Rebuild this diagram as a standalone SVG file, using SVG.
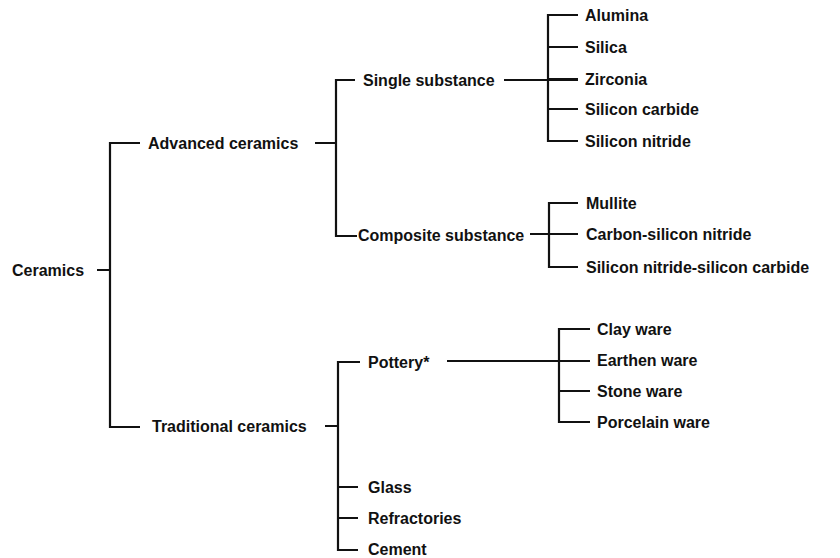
<svg xmlns="http://www.w3.org/2000/svg" width="840" height="558" viewBox="0 0 840 558">
<style>
text{font-family:"Liberation Sans",Arial,sans-serif;font-weight:bold;font-size:16px;fill:#111;dominant-baseline:central}
.c{stroke:#111;stroke-width:2.2;fill:none;stroke-linecap:butt}
</style>
<rect width="840" height="558" fill="#fff"/>
<g id="connectors" class="c">
<path d="M97 270H110M140 143H110V427H140"/>
<path d="M315 143H336M355 80H336V236H357"/>
<path d="M504 80H578M578 15H548V141H578M548 47H578M548 79H578M548 109H578"/>
<path d="M530 234H578M578 203H549V267H578"/>
<path d="M325 426H338M360 362H338V550H358M338 487H358M338 518H358"/>
<path d="M447 361H590M590 329H559V422H590M559 391H590"/>
</g>
<g id="n-ceramics"><text x="12" y="270">Ceramics</text></g>
<g id="n-advanced"><text x="148" y="143">Advanced ceramics</text></g>
<g id="n-traditional"><text x="152" y="426">Traditional ceramics</text></g>
<g id="n-single"><text x="363" y="80">Single substance</text></g>
<g id="n-composite"><text x="358" y="235">Composite substance</text></g>
<g id="n-alumina"><text x="585" y="15">Alumina</text></g>
<g id="n-silica"><text x="585" y="47">Silica</text></g>
<g id="n-zirconia"><text x="585" y="79">Zirconia</text></g>
<g id="n-sic"><text x="585" y="109">Silicon carbide</text></g>
<g id="n-sin"><text x="585" y="141">Silicon nitride</text></g>
<g id="n-mullite"><text x="586" y="203">Mullite</text></g>
<g id="n-csn"><text x="586" y="234">Carbon-silicon nitride</text></g>
<g id="n-sinsic"><text x="586" y="267">Silicon nitride-silicon carbide</text></g>
<g id="n-pottery"><text x="368" y="362">Pottery*</text></g>
<g id="n-glass"><text x="368" y="487">Glass</text></g>
<g id="n-refractories"><text x="368" y="518">Refractories</text></g>
<g id="n-cement"><text x="368" y="549">Cement</text></g>
<g id="n-clay"><text x="597" y="329">Clay ware</text></g>
<g id="n-earthen"><text x="597" y="360">Earthen ware</text></g>
<g id="n-stone"><text x="597" y="391">Stone ware</text></g>
<g id="n-porcelain"><text x="597" y="422">Porcelain ware</text></g>
</svg>
